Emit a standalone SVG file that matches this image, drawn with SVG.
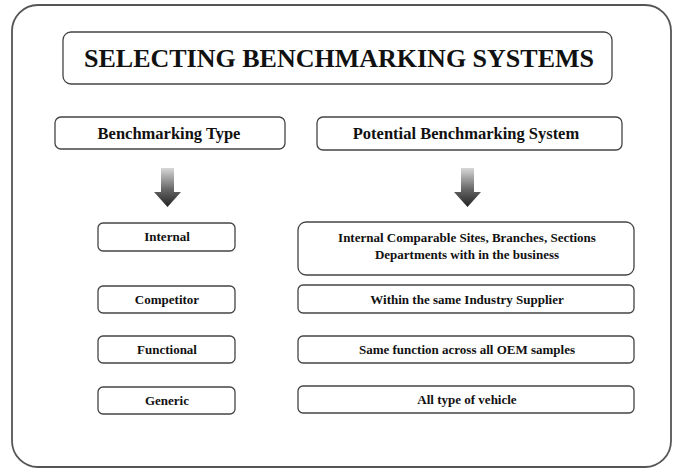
<svg xmlns="http://www.w3.org/2000/svg" width="675" height="469" viewBox="0 0 675 469">
<defs>
<linearGradient id="ag" x1="0" y1="0" x2="0" y2="1">
<stop offset="0" stop-color="#d8d8d8"/>
<stop offset="0.55" stop-color="#666"/>
<stop offset="1" stop-color="#222"/>
</linearGradient>
<style>
.box{fill:#fff;stroke:#444;stroke-width:1.3}
.frame{fill:#fff;stroke:#555;stroke-width:1.8}
text{font-family:"Liberation Serif","Times New Roman",serif;font-weight:bold;fill:#111;text-anchor:middle}
.t{font-size:26px}
.h{font-size:16.5px}
.s{font-size:13px}
</style>
</defs>
<rect width="675" height="469" fill="#fff"/>
<rect class="frame" x="12" y="5" width="659" height="462" rx="26"/>
<g id="title">
<rect class="box" x="63" y="32" width="549" height="52" rx="8"/>
<text class="t" x="339" y="67">SELECTING BENCHMARKING SYSTEMS</text>
</g>
<g id="type-header">
<rect class="box" x="55" y="117" width="230" height="32" rx="6"/>
<text class="h" x="169" y="139">Benchmarking Type</text>
</g>
<g id="system-header">
<rect class="box" x="317" y="117" width="305" height="33" rx="6"/>
<text class="h" x="466" y="139">Potential Benchmarking System</text>
</g>
<g id="connectors">
<path d="M161,168 H174 V192 H181 L167.5,207 L154,192 H161 Z" fill="url(#ag)"/>
<path d="M461,168 H474 V192 H481 L467.5,207 L454,192 H461 Z" fill="url(#ag)"/>
</g>
<g id="internal">
<rect class="box" x="98" y="223" width="137" height="28" rx="5"/>
<text class="s" x="167" y="241">Internal</text>
</g>
<g id="competitor">
<rect class="box" x="98" y="286" width="137" height="27" rx="5"/>
<text class="s" x="167" y="304">Competitor</text>
</g>
<g id="functional">
<rect class="box" x="98" y="336" width="137" height="27" rx="5"/>
<text class="s" x="167" y="354">Functional</text>
</g>
<g id="generic">
<rect class="box" x="98" y="387" width="137" height="27" rx="5"/>
<text class="s" x="167" y="405">Generic</text>
</g>
<g id="internal-sys">
<rect class="box" x="298" y="222" width="336" height="53" rx="8"/>
<text class="s" x="467" y="242">Internal Comparable Sites, Branches, Sections</text>
<text class="s" x="467" y="259">Departments with in the business</text>
</g>
<g id="competitor-sys">
<rect class="box" x="298" y="285" width="336" height="28" rx="5"/>
<text class="s" x="467" y="304">Within the same Industry Supplier</text>
</g>
<g id="functional-sys">
<rect class="box" x="298" y="336" width="336" height="27" rx="5"/>
<text class="s" x="467" y="354">Same function across all OEM samples</text>
</g>
<g id="generic-sys">
<rect class="box" x="298" y="386" width="336" height="27" rx="5"/>
<text class="s" x="467" y="404">All type of vehicle</text>
</g>
</svg>
